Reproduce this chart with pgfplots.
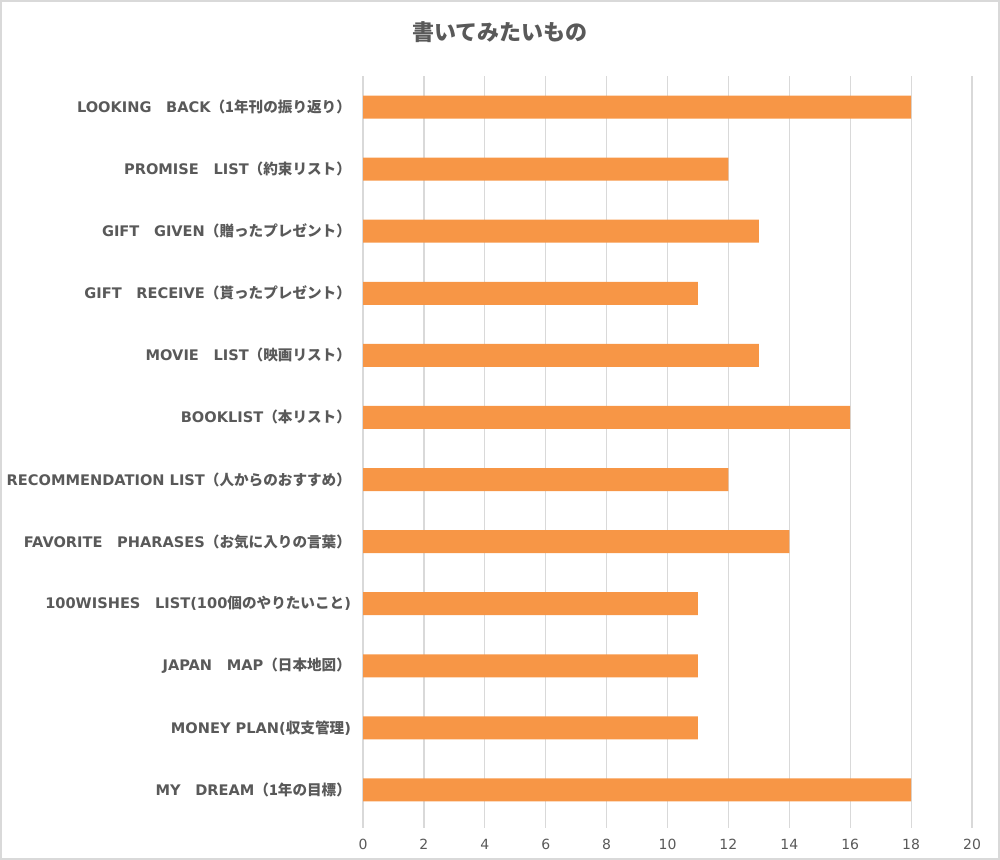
\documentclass[border=0pt]{standalone}
\usepackage{pgfplots}
\pgfplotsset{compat=1.18}
\usepackage{fontspec}
\setmainfont{DejaVu Sans}
\newfontfamily\jp{Noto Sans CJK JP}
\newcommand{\zs}{{\jp　}}
\definecolor{barorange}{HTML}{F79646}
\definecolor{txtgray}{HTML}{595959}
\definecolor{gridgray}{HTML}{D9D9D9}
\begin{document}
\begin{tikzpicture}
  \useasboundingbox (0,0) rectangle (500pt,430pt);
  \draw[gridgray, line width=1pt] (0.5pt,0.5pt) rectangle (499.5pt,429.5pt);
  \node[text=txtgray, font=\jp\bfseries\fontsize{11}{13}\selectfont] at (250pt,414pt) {書いてみたいもの};
  \begin{axis}[
      at={(181.5pt,19.5pt)}, anchor=south west,
      scale only axis, width=304.5pt, height=372.5pt,
      xbar, bar width=11.5pt,
      xmin=0, xmax=20, ymin=-0.5, ymax=11.5,
      xtick={0,2,...,20}, ytick=data, xtick pos=bottom,
      yticklabels={
        {MY\zs DREAM{\jp（1年の目標）}},
        {MONEY PLAN({\jp 収支管理})},
        {JAPAN\zs MAP{\jp（日本地図）}},
        {100WISHES\zs LIST(100{\jp 個のやりたいこと})},
        {FAVORITE\zs PHARASES{\jp（お気に入りの言葉）}},
        {RECOMMENDATION LIST{\jp（人からのおすすめ）}},
        {BOOKLIST{\jp（本リスト）}},
        {MOVIE\zs LIST{\jp（映画リスト）}},
        {GIFT\zs RECEIVE{\jp（貰ったプレゼント）}},
        {GIFT\zs GIVEN{\jp（贈ったプレゼント）}},
        {PROMISE\zs LIST{\jp（約束リスト）}},
        {LOOKING\zs BACK{\jp（1年刊の振り返り）}}},
      axis line style={draw=none},
      xmajorgrids, grid style={gridgray, line width=0.6pt},
      tick align=outside, major tick length=3.5pt,
      xtick style={gridgray, line width=0.6pt},
      ytick style={draw=none},
      yticklabel style={font=\bfseries\fontsize{7.3}{8}\selectfont, text=txtgray, xshift=1pt},
      xticklabel style={font=\fontsize{7}{8}\selectfont, text=txtgray, yshift=-2pt},
      /pgf/number format/assume math mode=true,
    ]
    \addplot[fill=barorange, draw=none] coordinates {
      (18,0) (11,1) (11,2) (11,3) (14,4) (12,5)
      (16,6) (13,7) (11,8) (13,9) (12,10) (18,11)};
  \end{axis}
\end{tikzpicture}
\end{document}
